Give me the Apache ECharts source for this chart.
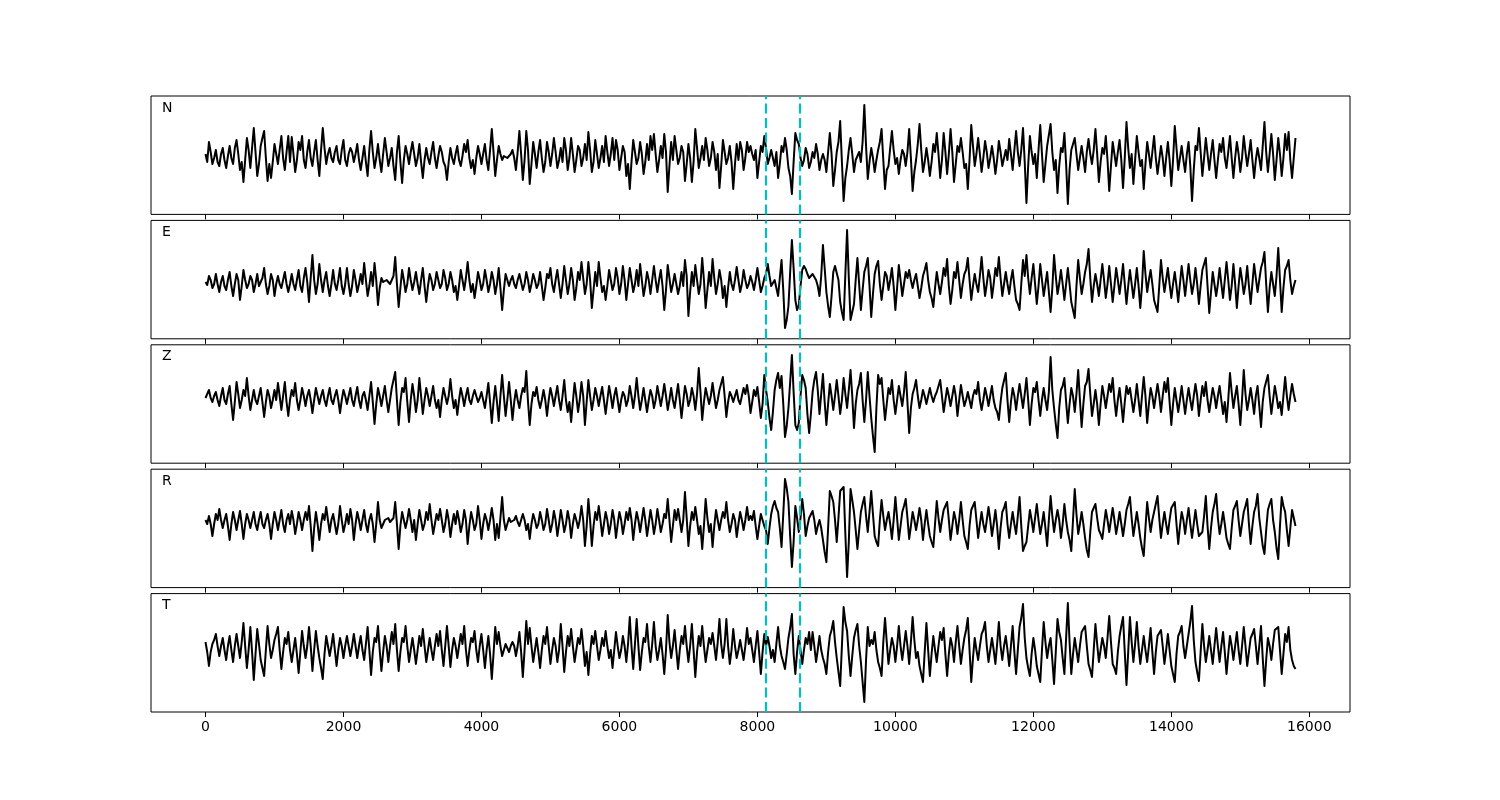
<!DOCTYPE html>
<html><head><meta charset="utf-8">
<script src="https://cdn.jsdelivr.net/npm/echarts@6/dist/echarts.min.js"></script>
<style>html,body{margin:0;padding:0;background:#fff}#c{width:1500px;height:800px}</style>
</head><body><div id="c"></div>
<script>
// ---- data ----
const channels = ['N', 'E', 'Z', 'R', 'T'];
const sampleStep = 25;           // time step between samples (x units)
const pickTimes = [8115, 8620];  // dashed cyan markers
const xTicks = [0, 2000, 4000, 6000, 8000, 10000, 12000, 14000, 16000];

const traceN = [
2,-6,14,4,-8,-2,6,-6,-10,2,8,-4,-12,0,10,-2,-8,8,16,2,
-14,-6,-26,-4,18,6,-12,8,28,4,-20,-8,10,18,25,-2,-25,-8,-22,-6,
12,2,-8,6,20,-2,-14,4,20,-6,19,2,-16,-4,14,6,20,-4,-12,4,
16,-2,-10,4,16,-4,-20,6,28,8,-8,2,8,-2,-6,4,10,-4,-8,6,
16,-4,-10,2,8,4,-6,2,12,-4,-14,-2,10,-6,-20,6,25,4,-12,-2,
12,-4,-16,2,18,4,-10,-2,8,-10,-24,4,20,-6,-27,-4,10,2,-8,4,
14,2,-10,-2,12,-6,-22,-4,8,-2,-8,4,14,-2,-12,0,10,4,-6,-10,
-24,-6,8,-2,-8,2,10,-4,-10,0,12,4,16,-2,-12,-4,-18,-2,10,2,
-8,2,12,-4,-14,6,27,4,-20,-4,10,2,-4,0,2,-2,-2,2,6,-2,
-14,4,25,2,-24,-4,25,6,-28,-8,14,2,-12,4,16,-2,-16,-6,14,4,
-10,2,18,4,-12,-4,8,-6,18,6,-14,-2,18,2,-16,-4,10,6,-10,-2,
12,-4,24,6,-16,-6,16,2,-12,-2,10,-6,20,4,-10,2,18,-4,16,6,
-14,-2,10,4,-20,-8,-33,-6,16,4,-8,-2,14,2,-18,-6,12,-4,20,6,
22,2,-16,-4,10,-2,22,4,-36,-10,14,-4,20,6,-8,-2,10,4,-25,-8,
12,-2,-26,-6,27,8,-12,-2,10,-4,18,6,-10,-2,14,4,-14,2,-32,-10,
16,4,-8,-2,10,-6,-33,-8,12,-4,14,6,-14,-2,14,4,
10,2,-4,6,-22,-6,10,4,20,8,-8,-2,6,-2,-10,4,-22,-8,10,4,
18,6,-12,-20,-38,-6,23,16,12,-2,-10,-4,8,2,-12,-6,4,-2,12,2,
-14,-4,2,-4,-16,4,23,2,-30,-14,4,14,35,-6,-45,-22,-10,6,18,2,
-16,-4,0,4,-6,14,51,10,-23,-6,8,-2,-16,-4,6,14,27,-4,-33,-14,
-10,8,25,6,-8,-2,-18,-4,6,2,-10,4,27,-2,-35,-16,-4,12,32,6,
-16,-6,8,-4,-20,-6,12,4,23,2,-22,-4,23,4,-18,2,27,4,-26,-8,
10,4,18,4,-12,-8,-33,-4,31,10,-10,2,18,2,-16,-2,15,4,-12,-2,
10,-2,-18,-4,15,4,-10,-2,6,-4,17,2,-14,6,25,4,-10,6,28,-6,
-47,-10,20,4,-8,2,-22,6,31,2,-26,-8,10,12,32,4,-14,-4,-37,-10,
8,4,23,-8,-48,-14,6,4,18,2,-14,-2,10,-2,-16,4,17,2,-8,6,
27,2,-26,-6,8,2,20,-4,-35,-10,14,2,-10,4,16,-4,-32,-2,34,8,
-12,2,-28,-4,20,4,-10,-4,-33,-8,14,2,-12,4,20,-2,-18,-4,10,-2,
-20,-2,14,-4,-30,-4,30,8,-14,-2,10,-4,-16,2,14,-10,-45,-14,10,6,
28,4,-20,-2,18,2,-14,2,16,-4,-22,-4,12,4,18,-2,-12,4,20,-2,
-22,-2,14,2,-16,-2,20,4,-10,2,16,-4,-22,-4,8,-2,-14,10,34,4,
-16,2,22,2,-24,-4,18,2,-20,-2,22,6,24,-4,-22,-2,18
];
const traceE = [
0,-3,6,2,-6,-2,8,-2,-10,0,6,-4,-8,2,10,-4,-14,-2,8,2,
-18,-4,12,2,-6,-2,6,2,-10,-2,8,-4,-6,4,14,-2,-12,-4,8,2,
-14,-2,6,-2,-6,2,10,-2,-10,-2,8,-2,-8,2,12,-4,-10,4,14,0,
-20,4,27,2,-12,-2,18,2,-10,2,10,-4,-14,-2,12,-2,-8,2,14,-4,
-12,-2,14,-2,-14,-4,12,2,-10,-2,8,-2,19,2,-14,-4,10,-4,19,2,
-23,-6,4,0,-2,2,2,-2,-4,6,25,-2,-25,-6,12,2,-10,-2,14,2,
-8,0,10,-2,-12,2,14,-4,-20,-4,8,2,-8,-2,10,2,-6,-2,12,4,
-8,-2,10,2,-10,-4,-18,-4,12,2,-8,4,20,2,-10,-2,-16,-4,10,2,
-8,-2,12,2,-10,-2,10,2,-12,-2,14,-6,-28,-8,8,2,-4,2,6,-2,
-6,2,8,0,-8,-2,10,2,-10,-2,8,2,-6,-2,10,-4,-18,-6,8,4,
14,-2,-10,2,12,-2,-16,-2,16,2,-12,-2,14,2,-18,-6,10,2,20,4,
-12,-2,20,2,-26,-8,10,-4,20,4,-10,-4,-18,-4,12,2,-8,-2,14,4,
-12,-2,16,2,-18,-2,14,2,-10,-2,12,-4,18,2,-14,-4,10,2,-12,2,
16,2,-10,2,12,-4,-28,-8,17,4,-10,-2,8,-2,-12,-4,10,-4,22,6,
-34,-10,10,-4,17,2,-12,-2,24,2,-26,-8,10,-4,23,4,-12,-2,12,2,
-16,-4,-25,-6,10,-2,-8,2,15,2,-10,-2,12,2,-6,-2,
6,0,-8,2,14,2,-10,-4,4,8,18,6,-4,-2,2,-6,-14,4,22,-8,
-46,-38,-24,10,42,14,-18,-28,-23,-4,12,16,13,8,4,2,8,6,2,-4,
-14,6,37,14,-10,-24,-35,-14,10,16,18,2,-20,-30,-38,8,52,4,-38,-30,
-22,2,24,-2,-28,-8,10,16,24,-4,-35,-12,8,16,21,-2,-18,-4,10,6,
-8,2,14,-4,-28,-6,17,2,-14,-2,10,4,12,2,-6,2,8,-4,-16,-6,
6,12,19,2,-10,-16,-25,-6,10,-2,-12,0,14,6,23,-4,-22,-8,10,4,
20,2,-16,-2,8,12,24,2,-18,-4,8,-2,-10,6,25,4,-14,-2,12,4,
-16,-2,14,6,25,4,-14,-2,10,-2,-12,2,12,-4,-18,-22,-28,-2,22,6,
27,4,-12,4,18,-2,-22,-4,18,2,-14,-2,10,-10,-30,-6,27,6,-12,-2,
12,-2,-18,-2,14,-2,-20,-28,-36,-4,22,4,-12,-2,10,18,33,4,-20,-4,
8,-2,-14,2,18,2,-16,-2,16,-2,-20,-4,14,2,-12,2,18,-2,-22,-4,
12,-2,-16,-2,14,-4,-26,-4,31,8,-10,2,12,-2,-18,-24,-30,-4,22,4,
-10,2,14,-2,-16,-2,10,-4,-20,-2,16,2,-14,2,18,2,-12,-2,14,-2,
-22,-4,12,18,24,-4,-31,-10,10,-2,-14,-2,14,-2,-16,2,20,2,-18,-4,
18,-2,-26,-4,14,2,-12,-2,16,-4,-22,-2,18,4,-10,2,14,20,30,-2,
-30,-6,10,-2,-14,6,34,2,-30,-6,12,16,22,2,-12,-4,2
];
const traceZ = [
0,2,8,0,-4,2,6,-2,-8,2,10,-2,-6,4,12,-6,-22,-4,16,4,
-10,-2,8,2,20,2,-12,-2,8,-2,-6,2,10,-4,-19,-4,8,2,-10,-2,
8,-2,15,2,-12,2,16,-4,-18,-2,8,2,15,-2,-12,-2,10,2,-8,2,
8,-2,-15,-2,10,2,-6,2,8,-2,-8,2,10,-2,-6,2,8,-2,-15,-2,
8,2,-6,2,10,-2,-8,2,11,-2,-10,2,6,-2,-12,2,16,-4,-26,-6,
10,2,-8,2,12,-2,-14,-2,10,8,26,-2,-27,-4,10,6,20,-4,-24,-2,
14,2,-14,-2,20,2,-16,-2,10,2,-8,2,12,-2,-10,-2,-19,-2,10,2,
-6,2,19,2,-10,-2,-17,-2,10,2,-8,2,10,-2,-6,2,8,2,-4,0,
6,-2,-10,2,15,-4,-25,-4,12,-4,-23,2,23,2,-18,-2,16,-2,-22,-4,
8,-2,-10,2,10,6,27,-4,-27,-6,6,2,11,-2,-10,-2,8,-2,-18,-2,
10,2,-8,2,12,-2,-12,2,18,-2,-14,-4,-24,-4,15,2,-14,-2,16,2,
-27,-4,18,2,-12,-2,10,2,-8,2,11,-2,-16,-2,12,2,-10,2,10,-2,
-14,-2,6,2,-8,-2,12,2,-10,2,20,2,-12,-2,10,-2,-14,-2,8,2,
-10,-2,12,2,-8,2,14,2,-12,-2,10,-2,-10,2,14,-2,-20,-4,12,4,
-8,-2,10,2,-12,4,30,6,-22,-4,10,2,-6,2,15,2,-10,-2,8,6,
21,2,-19,-4,6,2,-4,2,8,-2,-6,2,10,4,13,2,
-15,-4,8,2,11,-4,-20,-6,23,8,-4,-20,-32,-14,8,18,25,10,22,-6,
-39,-28,-10,16,43,6,-27,-32,-25,2,23,18,10,-16,-35,-16,6,18,26,8,
-16,4,24,-4,-27,-6,14,2,-12,2,18,2,-16,-2,20,4,-10,8,28,2,
-30,-6,8,14,25,-2,-24,-2,26,2,-20,-38,-54,-10,23,14,20,-2,-22,-6,
10,4,18,-2,-16,-2,12,2,-8,6,26,-4,-35,-10,4,10,18,2,-10,-2,
8,2,-6,2,10,2,-4,2,6,8,18,2,-14,-2,10,2,-8,2,12,2,
-18,-2,13,2,-8,-2,6,-2,-10,2,8,4,16,-2,-12,-2,10,2,-8,2,
12,-2,-10,-14,-22,-4,10,12,25,-2,-24,-4,10,2,-12,2,14,2,-10,4,
20,-2,-27,-6,10,6,16,-2,-18,-2,10,-2,-12,6,41,8,-10,-26,-40,-10,
8,12,20,-4,-25,-6,10,2,-14,4,28,-2,-29,-6,12,16,29,4,-18,-6,
8,-6,-27,-6,12,2,-10,2,14,6,20,-2,-18,-2,10,-6,-24,-4,12,4,
10,-2,-14,-2,14,-2,-18,2,21,2,-25,-6,10,2,-10,2,14,2,-14,2,
16,6,20,-4,-27,-6,10,-2,-14,-2,12,-2,-16,-2,10,-2,-12,2,14,2,
-18,-2,12,2,16,-2,-14,-2,10,2,-10,2,12,-2,-16,-4,-24,-2,25,6,
-10,2,12,-6,-27,-2,28,4,-12,-2,10,-2,-16,2,12,-8,-29,-4,10,8,
23,2,-16,-2,12,2,-10,-4,-17,2,21,2,-12,2,14,4,-4
];
const traceR = [
2,-2,6,-2,-14,-2,8,2,13,2,-6,2,8,-4,-18,-2,10,2,-8,2,
11,-2,-17,-2,8,2,-6,2,10,-2,-8,2,10,-2,-6,2,8,-2,-17,-2,
10,2,-8,2,12,-2,-10,2,8,-2,11,2,-12,-2,10,2,-8,2,10,2,
16,-4,-29,-6,10,-2,-18,-2,8,2,15,2,-10,2,8,-2,-12,-2,16,2,
-10,-2,8,-2,13,2,-18,-2,10,2,-8,2,12,-2,-10,2,8,-2,-20,-2,
20,2,-6,-2,2,0,4,0,-2,4,20,-2,-27,-4,10,2,-6,2,13,2,
-10,2,-18,-2,12,2,-8,-2,10,2,18,2,-12,-2,8,2,13,2,-10,-2,
12,2,-15,-2,8,-2,11,2,-10,-2,12,2,-22,-4,10,2,-8,-2,16,2,
-17,-2,8,2,-8,2,14,2,-18,-2,-16,4,25,2,-8,-2,4,0,-2,2,
6,0,-4,2,8,2,-8,-2,-17,-2,8,2,-6,-2,10,2,-8,-2,13,2,
-10,-2,11,2,-14,-2,12,2,-10,-2,11,2,-16,-2,8,2,-6,2,16,2,
-24,-4,23,2,-24,-4,10,2,16,2,-14,-2,10,2,-12,-2,12,2,-16,-2,
10,2,-12,-2,10,2,14,2,-18,-2,10,2,-10,2,14,2,-14,-2,12,2,
-12,-2,13,2,-10,-2,8,4,23,2,-20,-4,12,2,13,2,-10,2,30,4,
-24,-4,10,2,15,2,-12,-4,-27,-4,23,4,-10,-2,-25,-4,12,2,-8,2,
10,4,20,2,-10,-2,8,2,-15,-2,10,2,-8,2,15,2,
6,2,11,-4,-17,-4,8,2,-4,-8,-22,-6,8,16,21,14,10,-6,-25,8,
43,34,20,-14,-45,-20,16,4,-10,4,23,8,-14,-4,4,6,11,2,-12,-4,
2,-6,-18,-30,-40,-6,31,26,20,2,-20,4,31,32,35,-12,-55,-20,33,22,
10,-8,-27,-8,10,18,25,6,-10,10,31,8,-14,-20,-24,2,22,6,-8,2,
10,-2,-17,2,25,4,-18,-4,10,16,23,4,-17,-4,10,2,-8,2,14,2,
-18,-2,12,-2,-14,-20,-25,-2,21,4,-10,2,12,16,20,2,-18,-4,10,2,
-12,2,20,2,-14,-20,-27,-4,12,16,20,2,-16,-2,10,-2,-10,2,15,2,
-14,-2,12,-4,-27,-6,10,14,20,-2,-16,-2,10,-2,-12,6,25,-4,-29,-24,
-20,-4,12,2,-10,4,18,2,-12,-2,10,-6,-24,2,26,6,-10,2,12,2,
-16,-2,18,2,-10,-18,-29,2,33,8,-12,-2,10,-2,-16,-28,-35,-10,10,14,
18,4,-8,-12,-17,-2,12,2,-10,2,14,2,-12,-2,10,-2,-14,-2,12,18,
25,4,-14,-2,10,-2,-16,-26,-34,-6,20,4,-10,2,10,18,26,4,-16,-2,
10,-2,-12,2,14,16,20,-2,-22,-4,10,2,-12,2,14,-2,-16,-2,12,-2,
-14,-12,-10,6,26,-4,-27,-6,10,18,28,4,-12,-2,10,-2,-16,-22,-27,-6,
12,16,21,2,-14,-2,10,16,23,-2,-22,-4,10,16,28,4,-10,-24,-32,-8,
12,18,23,2,-10,-26,-37,-4,25,16,10,-8,-24,-6,12,4,-4
];
const traceT = [
6,-4,-18,-4,4,8,14,2,-8,2,10,-2,-12,2,12,-2,-14,2,14,2,
-10,6,25,2,-20,-2,21,-4,-32,-6,19,4,-12,-20,-28,-2,22,4,-10,-2,
8,14,21,-2,-21,-4,10,4,16,-2,-14,-2,10,-6,-25,-4,17,2,-10,2,
21,2,-23,-2,17,2,-10,-20,-31,-6,12,2,-8,2,14,-2,-18,-2,10,2,
-10,2,12,2,-8,2,14,2,-10,2,12,-2,-12,4,21,-2,-27,-4,10,6,
22,-2,-23,-4,12,2,-14,2,16,4,24,-2,-23,-4,10,6,22,2,-14,-2,
10,-2,-16,-2,12,2,19,2,-14,-2,10,-2,-12,2,14,2,17,-2,-18,2,
22,2,-19,-2,10,2,-10,2,14,4,22,-2,-18,-2,10,6,17,-2,-14,2,
14,-2,-20,-2,12,-6,-31,-6,21,4,16,2,-8,-2,4,0,-4,2,6,2,
-8,2,16,-4,-29,-2,27,4,20,2,-14,-2,10,-4,-20,-2,12,4,21,2,
-16,-2,10,2,-14,-2,24,2,-24,-4,12,2,19,2,-14,-2,10,4,19,2,
-18,-4,-27,-6,12,4,17,2,-12,-2,10,2,17,2,-10,-2,-20,-2,16,2,
-10,-2,12,2,-14,4,31,2,-21,4,29,2,-22,-4,10,6,24,2,-14,4,
26,2,-12,-2,10,-6,-26,-2,33,6,-10,2,18,-2,-21,-2,12,4,22,2,
-14,2,24,-2,-29,-4,12,2,22,2,-14,-2,10,4,15,2,-12,6,29,4,
-10,4,29,2,-16,-2,19,2,-10,-2,8,-2,-12,2,20,4,
10,-2,-14,2,17,-4,-26,-4,14,2,11,2,-10,-2,-14,4,21,2,-8,-14,
-21,-6,10,20,34,-6,-26,-4,12,-2,-16,-2,10,4,16,-2,16,2,-14,-2,
12,-2,-10,-16,-26,-4,12,18,27,6,-10,-24,-38,2,41,26,17,-8,-28,-8,
10,18,24,2,-14,-34,-54,-12,21,2,8,4,16,-2,-14,-20,-28,6,30,6,
-16,-2,10,2,-14,2,22,2,-12,2,17,2,-16,6,31,8,-10,-4,-18,-26,
-34,-4,25,-2,-28,-6,12,-2,-14,2,16,8,20,-6,-28,-6,10,2,-14,6,
22,2,-16,-2,10,18,30,-2,-34,-10,10,-2,-12,2,14,18,26,2,-14,-2,
10,-2,-16,4,26,2,-12,2,12,-2,-18,2,22,-4,-26,-2,21,30,44,10,
-10,-20,-28,-6,10,-2,-18,-26,-34,-2,26,6,-10,2,10,-12,-36,-4,29,16,
8,-10,-26,10,45,6,-26,-6,10,-2,-14,2,16,18,22,2,-16,-22,-29,-2,
24,4,-14,-2,10,2,-10,10,32,6,-16,-20,-26,-4,12,22,31,-4,-37,-4,
31,6,-14,4,26,2,-16,-2,12,-2,-14,2,20,-4,-26,-4,12,14,18,2,
-16,-2,14,-2,-18,-26,-34,-6,12,16,22,2,-10,2,14,26,42,8,-14,-24,
-33,-4,24,2,-14,-2,12,-2,-16,2,20,2,-14,2,16,-4,-26,-6,12,2,
-12,2,16,-2,-16,2,21,2,-18,-4,10,14,19,2,-16,2,22,-10,-38,-12,
10,2,-12,4,18,20,21,-2,-26,-6,14,6,21,-2,-12,-18,-21
];
const traces = [traceN, traceE, traceZ, traceR, traceT];

// ---- layout ----
const L = {
  left: 151, width: 1199, height: 118.4,
  tops: [96, 220.4, 344.8, 469.2, 593.6],
  yRanges: [[-58.4, 60], [-56.8, 61.6], [-65.2, 53.2], [-65.6, 52.8], [-64, 54.4]],
  xMin: -790, xMax: 16590
};

const grids = [], xAxes = [], yAxes = [], series = [], graphics = [];
channels.forEach((ch, k) => {
  grids.push({ left: L.left, top: L.tops[k], width: L.width, height: L.height,
    show: true, borderColor: '#000', borderWidth: 1, backgroundColor: 'transparent',
    containLabel: false, outerBoundsMode: 'none' });
  xAxes.push({ type: 'value', gridIndex: k, min: L.xMin, max: L.xMax, position: 'bottom',
    axisLine: { show: false, onZero: false }, splitLine: { show: false },
    axisTick: { show: true, inside: false, length: 5, customValues: xTicks, lineStyle: { color: '#000', width: 1 } },
    axisLabel: { show: k === channels.length - 1, customValues: xTicks, color: '#000',
      fontSize: 14, fontFamily: 'DejaVu Sans', margin: 8, formatter: v => String(v) } });
  yAxes.push({ type: 'value', gridIndex: k, min: L.yRanges[k][0], max: L.yRanges[k][1], show: false });
  series.push({ type: 'line', xAxisIndex: k, yAxisIndex: k, showSymbol: false, symbol: 'none',
    sampling: 'none', animation: false, silent: true,
    lineStyle: { color: '#000', width: 2, join: 'round' },
    data: traces[k].map((v, i) => [i * sampleStep, v]),
    markLine: { symbol: ['none', 'none'], silent: true, animation: false,
      label: { show: false },
      lineStyle: { color: '#00BFBF', width: 2.2, type: [10, 4.4] },
      emphasis: { disabled: true },
      data: pickTimes.map(t => ({ xAxis: t })) } });
  graphics.push({ type: 'text', left: 162, top: L.tops[k] + 5,
    style: { text: ch, font: '14px "DejaVu Sans"', fill: '#000' } });
});

const chart = echarts.init(document.getElementById('c'), null, { renderer: 'canvas' });
chart.setOption({
  animation: false, backgroundColor: '#fff',
  grid: grids, xAxis: xAxes, yAxis: yAxes, series: series, graphic: graphics
});
</script></body></html>
